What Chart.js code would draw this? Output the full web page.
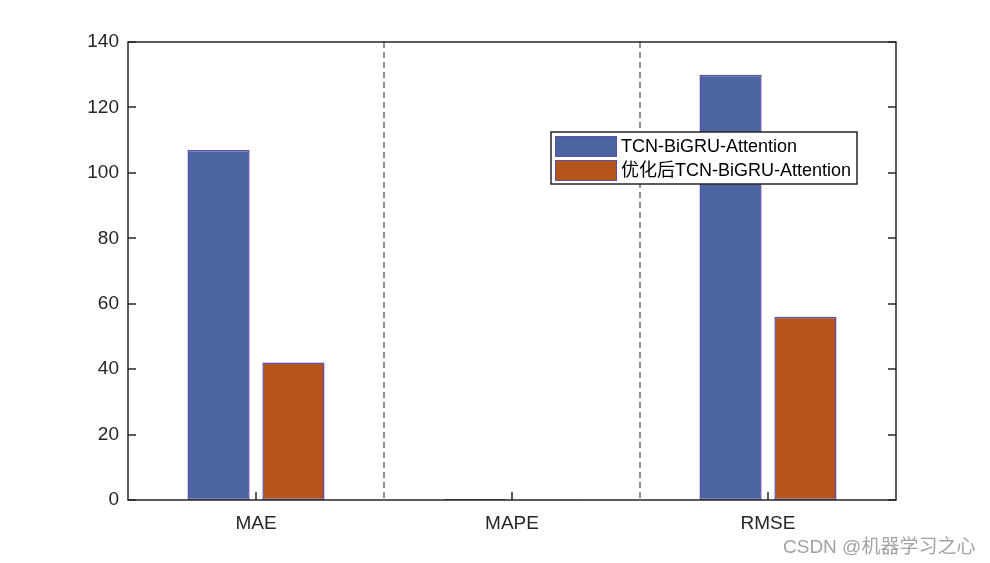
<!DOCTYPE html>
<html>
<head>
<meta charset="utf-8">
<script src="https://cdn.jsdelivr.net/npm/chart.js@4"></script>
<style>
  html, body { margin: 0; padding: 0; background: #fff; }
  #wrap { position: relative; width: 990px; height: 563px; }
  #mark { position: absolute; left: 783px; top: 531px; font: 19px "Liberation Sans", Arial, "Noto Sans CJK SC", sans-serif; color: #a3a3a3; }
</style>
</head>
<body>
<div id="wrap">
  <canvas id="c" width="990" height="563"></canvas>
  <div id="mark">CSDN @机器学习之心</div>
</div>
<script>
    // data
    const categories = ['MAE', 'MAPE', 'RMSE'];
    const seriesNames = ['TCN-BiGRU-Attention', '优化后TCN-BiGRU-Attention'];
    const baseValues = [107, 0.3, 130];
    const tunedValues = [42, 0.15, 56];
    const yTicks = [0, 20, 40, 60, 80, 100, 120, 140];

    const FONT = '"Liberation Sans", Arial, "Noto Sans CJK SC", sans-serif';
    const TEXT = '#262626';
    const EDGE = '#5b4fa8';
    const fills = ['#4c64a0', '#b5541c'];

    // dashed separators, box around the plot and inward ticks
    const boxPlugin = {
        id: 'box',
        beforeDatasetsDraw(chart) {
            const { ctx, chartArea: a, scales } = chart;
            ctx.save();
            ctx.strokeStyle = '#6e6e6e';
            ctx.lineWidth = 1.5;
            ctx.setLineDash([6, 4]);
            ctx.beginPath();
            for (let i = 0; i < categories.length - 1; i++) {
                const x = Math.round((scales.x.getPixelForValue(i) + scales.x.getPixelForValue(i + 1)) / 2);
                ctx.moveTo(x, a.top);
                ctx.lineTo(x, a.bottom);
            }
            ctx.stroke();
            ctx.restore();
        },
        afterDatasetsDraw(chart) {
            const { ctx, chartArea: a, scales } = chart;
            ctx.save();
            ctx.strokeStyle = TEXT;
            ctx.lineWidth = 1.5;
            ctx.strokeRect(a.left, a.top, a.right - a.left, a.bottom - a.top);
            ctx.beginPath();
            yTicks.forEach(v => {
                const y = Math.round(scales.y.getPixelForValue(v));
                ctx.moveTo(a.left, y); ctx.lineTo(a.left + 8, y);
                ctx.moveTo(a.right, y); ctx.lineTo(a.right - 8, y);
            });
            categories.forEach((c, i) => {
                const x = Math.round(scales.x.getPixelForValue(i));
                ctx.moveTo(x, a.bottom); ctx.lineTo(x, a.bottom - 8);
            });
            ctx.stroke();
            ctx.restore();
        }
    };

    // legend box drawn inside the plot
    const legendPlugin = {
        id: 'boxLegend',
        afterDraw(chart) {
            const { ctx } = chart;
            const x = 551, y = 132, w = 306, h = 52;
            ctx.save();
            ctx.fillStyle = '#fff';
            ctx.fillRect(x, y, w, h);
            ctx.strokeStyle = TEXT;
            ctx.lineWidth = 1.5;
            ctx.strokeRect(x, y, w, h);
            ctx.font = '18px ' + FONT;
            ctx.textBaseline = 'middle';
            seriesNames.forEach((name, i) => {
                const ry = y + 4 + i * 24;
                ctx.fillStyle = fills[i];
                ctx.fillRect(x + 4, ry, 62, 21);
                ctx.strokeStyle = EDGE;
                ctx.lineWidth = 1;
                ctx.strokeRect(x + 4.5, ry + 0.5, 61, 20);
                ctx.fillStyle = '#000';
                ctx.fillText(name, x + 70, ry + 11);
            });
            ctx.restore();
        }
    };

    new Chart(document.getElementById('c'), {
        type: 'bar',
        data: {
            labels: categories,
            datasets: [
                { label: seriesNames[0], data: baseValues, backgroundColor: fills[0] },
                { label: seriesNames[1], data: tunedValues, backgroundColor: fills[1] }
            ]
        },
        options: {
            responsive: false,
            animation: false,
            devicePixelRatio: 1,
            layout: { padding: { left: 0, top: 42, right: 94, bottom: 0 } },
            datasets: {
                bar: {
                    categoryPercentage: 0.585,
                    barPercentage: 0.83,
                    borderColor: EDGE,
                    borderWidth: 1.5,
                    borderSkipped: false
                }
            },
            plugins: {
                legend: { display: false },
                tooltip: { enabled: false }
            },
            scales: {
                x: {
                    offset: true,
                    grid: { display: false, drawTicks: false },
                    border: { display: false },
                    ticks: { color: TEXT, font: { family: FONT, size: 19 }, padding: 12 },
                    afterFit(s) { s.height = 63; }
                },
                y: {
                    min: 0,
                    max: 140,
                    grid: { display: false, drawTicks: false },
                    border: { display: false },
                    ticks: { stepSize: 20, color: TEXT, font: { family: FONT, size: 19 }, padding: 9 },
                    afterFit(s) { s.width = 128; }
                }
            }
        },
        plugins: [boxPlugin, legendPlugin]
    });
</script>
</body>
</html>
